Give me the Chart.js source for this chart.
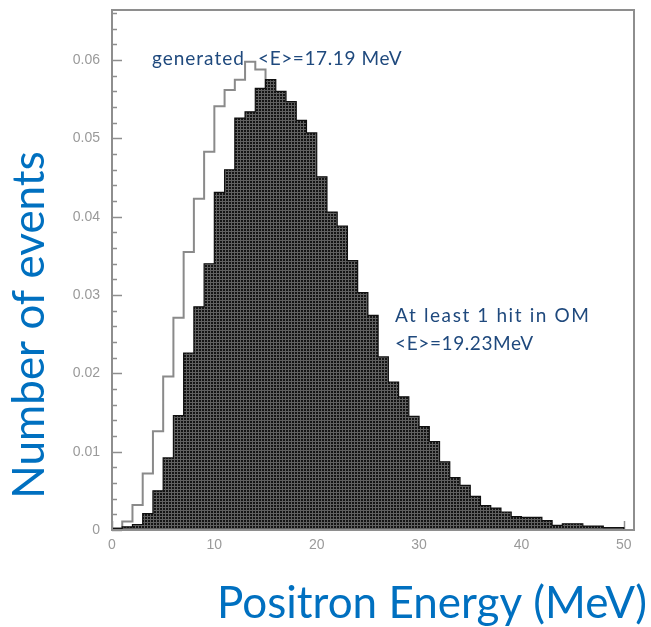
<!DOCTYPE html>
<html>
<head>
<meta charset="utf-8">
<title>Positron energy</title>
<script src="https://cdn.jsdelivr.net/npm/chart.js@4.4.0/dist/chart.umd.min.js"></script>
<style>
  html, body { margin: 0; padding: 0; background: #fff; }
  #wrap { width: 651px; height: 627px; }
</style>
</head>
<body>
<div id="wrap"><canvas id="energyChart" width="651" height="627"></canvas></div>
<script>
// Lower edge of each 1 MeV bin
const energyLow = [0, 1, 2, 3, 4, 5, 6, 7, 8, 9,
    10, 11, 12, 13, 14, 15, 16, 17, 18, 19,
    20, 21, 22, 23, 24, 25, 26, 27, 28, 29,
    30, 31, 32, 33, 34, 35, 36, 37, 38, 39,
    40, 41, 42, 43, 44, 45, 46, 47, 48, 49, 50];
const upperEdge = 51;

// Generated spectrum, <E> = 17.19 MeV
const generatedValues = [0, 0.0002, 0.0011, 0.0032, 0.0072, 0.0126, 0.0196, 0.0271, 0.0355, 0.0423,
    0.0483, 0.0541, 0.0562, 0.0575, 0.0598, 0.0588, 0.0555, 0.0515, 0.0505, 0.0463,
    0.0430, 0.0383, 0.0335, 0.0293, 0.0259, 0.0243, 0.0195, 0.0163, 0.0140, 0.0118,
    0.0098, 0.0080, 0.0065, 0.0052, 0.0042, 0.0034, 0.0027, 0.0021, 0.0016, 0.0013,
    0.0010, 0.0008, 0.0007, 0.0005, 0.0004, 0.0003, 0.0003, 0.0002, 0.0002, 0.0001, 0.0001];

// Events with at least 1 hit in OM, <E> = 19.23 MeV
const hitValues = [0, 0.0002, 0.0004, 0.0007, 0.0021, 0.0050, 0.0092, 0.0146, 0.0226, 0.0285,
    0.0340, 0.0431, 0.0460, 0.0526, 0.0534, 0.0564, 0.0575, 0.0560, 0.0547, 0.0523,
    0.0507, 0.0451, 0.0406, 0.0388, 0.0344, 0.0303, 0.0274, 0.0221, 0.0189, 0.0170,
    0.0145, 0.0132, 0.0113, 0.0087, 0.0067, 0.0057, 0.0043, 0.0031, 0.0028, 0.0023,
    0.0017, 0.0016, 0.0016, 0.0012, 0.0006, 0.0008, 0.0008, 0.0005, 0.0005, 0.0003, 0.0003];

const xTickValues = [0, 10, 20, 30, 40, 50];
const yTickValues = [0, 0.01, 0.02, 0.03, 0.04, 0.05, 0.06];

const axisGray = '#8e8e8e';
const titleBlue = '#0070C0';
const noteBlue = '#1F497D';

function isLabelledY(v) {
    return yTickValues.some(t => Math.abs(t - v) < 1e-7);
}

// stepped histogram: one point per lower edge, closed at the upper edge
function stepPoints(values) {
    return energyLow.map((e, i) => ({ x: e, y: values[i] }))
        .concat([{ x: upperEdge, y: 0 }]);
}

// dark cross-hatched fill
function hatchPattern() {
    const c = document.createElement('canvas');
    c.width = 3; c.height = 3;
    const g = c.getContext('2d');
    g.fillStyle = '#141414';
    g.fillRect(0, 0, 3, 3);
    g.fillStyle = '#606060';
    g.fillRect(0, 0, 3, 1);
    g.fillRect(0, 0, 1, 3);
    return g.createPattern(c, 'repeat');
}

function drawSpaced(ctx, text, x, y, spacing) {
    ctx.letterSpacing = spacing + 'px';
    ctx.fillText(text, x, y);
    ctx.letterSpacing = '0px';
}

const framePlugin = {
    id: 'frame',
    beforeDatasetsDraw(chart) {
        const { ctx, chartArea: a, scales: { x, y } } = chart;
        ctx.save();
        ctx.strokeStyle = axisGray;
        ctx.lineWidth = 1.5;
        ctx.beginPath();
        y.ticks.forEach(t => {
            if (t.value > y.max - 1e-6) return;
            const py = Math.round(y.getPixelForValue(t.value)) + 0.5;
            const len = isLabelledY(t.value) ? 10 : 5;
            ctx.moveTo(a.left, py);
            ctx.lineTo(a.left + len, py);
        });
        xTickValues.forEach(v => {
            const px = Math.round(x.getPixelForValue(v)) + 0.5;
            ctx.moveTo(px, a.bottom);
            ctx.lineTo(px, a.bottom - 9);
        });
        ctx.stroke();
        ctx.restore();
    },
    afterDatasetsDraw(chart) {
        const { ctx, chartArea: a } = chart;
        ctx.save();
        ctx.strokeStyle = axisGray;
        ctx.lineWidth = 2;
        ctx.strokeRect(a.left, a.top, a.right - a.left, a.bottom - a.top);
        ctx.restore();
    },
    afterDraw(chart) {
        const { ctx, scales: { x, y } } = chart;
        ctx.save();

        // annotations
        ctx.fillStyle = noteBlue;
        ctx.font = '19px Lato';
        ctx.textBaseline = 'alphabetic';
        ctx.textAlign = 'left';
        drawSpaced(ctx, 'generated', x.getPixelForValue(3.9), y.getPixelForValue(0.0594), 1.0);
        drawSpaced(ctx, '<E>=17.19 MeV', x.getPixelForValue(14.27), y.getPixelForValue(0.0594), 0.6);
        drawSpaced(ctx, 'At least 1 hit in OM', x.getPixelForValue(27.66), y.getPixelForValue(0.0265), 1.6);
        drawSpaced(ctx, '<E>=19.23MeV', x.getPixelForValue(27.66), y.getPixelForValue(0.0230), 0.6);

        // axis titles
        ctx.fillStyle = titleBlue;
        ctx.font = '44px Lato';
        ctx.textAlign = 'right';
        ctx.fillText('Positron Energy (MeV)', 647, 618);

        ctx.translate(44, 325);
        ctx.rotate(-Math.PI / 2);
        ctx.textAlign = 'center';
        ctx.fillText('Number of events', 0, 0);
        ctx.restore();
    }
};

const tickFont = { family: 'Liberation Sans, Arial, sans-serif', size: 14 };

new Chart(document.getElementById('energyChart'), {
    type: 'line',
    data: {
        datasets: [{
            label: 'At least 1 hit in OM',
            data: stepPoints(hitValues),
            stepped: 'after',
            fill: 'origin',
            backgroundColor: hatchPattern(),
            borderColor: '#111111',
            borderWidth: 1.2,
            pointRadius: 0,
            order: 0
        }, {
            label: 'generated',
            data: stepPoints(generatedValues),
            stepped: 'after',
            fill: false,
            borderColor: '#8a8a8a',
            borderWidth: 2,
            pointRadius: 0,
            order: 1
        }]
    },
    options: {
        responsive: false,
        animation: false,
        layout: { padding: { top: 10, right: 17, left: 0, bottom: 0 } },
        plugins: {
            legend: { display: false },
            tooltip: { enabled: false }
        },
        scales: {
            x: {
                type: 'linear',
                min: 0,
                max: upperEdge,
                grid: { display: false, drawTicks: false },
                border: { display: false },
                afterFit(scale) {
                    scale.height = 97;
                    scale.paddingLeft = 0;
                    scale.paddingRight = 0;
                },
                ticks: {
                    stepSize: 10,
                    includeBounds: false,
                    autoSkip: false,
                    maxRotation: 0,
                    padding: 7,
                    color: '#9a9a9a',
                    font: tickFont,
                    callback: v => xTickValues.includes(v) ? String(v) : ''
                }
            },
            y: {
                type: 'linear',
                min: 0,
                max: 0.0664,
                grid: { display: false, drawTicks: false },
                border: { display: false },
                afterFit(scale) {
                    scale.width = 112;
                    scale.paddingTop = 0;
                    scale.paddingBottom = 0;
                },
                ticks: {
                    stepSize: 0.002,
                    includeBounds: false,
                    autoSkip: false,
                    padding: 12,
                    color: '#9a9a9a',
                    font: tickFont,
                    callback: v => {
                        if (!isLabelledY(v)) return '';
                        return v < 1e-7 ? '0' : v.toFixed(2);
                    }
                }
            }
        }
    },
    plugins: [framePlugin]
});
</script>
</body>
</html>
